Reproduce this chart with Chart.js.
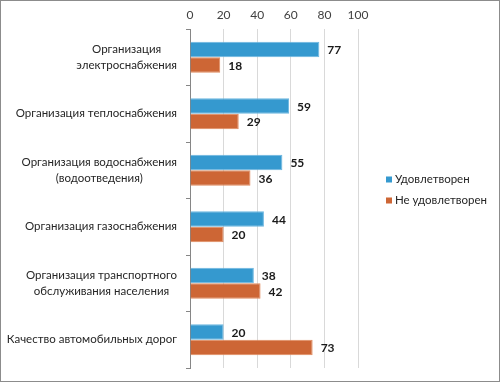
<!DOCTYPE html>
<html>
<head>
<meta charset="utf-8">
<script src="https://cdn.jsdelivr.net/npm/chart.js@4"></script>
<style>
  html, body { margin: 0; padding: 0; background: #fff; }
  #wrap { width: 500px; height: 382px; }
</style>
</head>
<body>
<div id="wrap"><canvas id="satisfactionChart" width="500" height="382"></canvas></div>
<script>
// категории (строки) и значения двух рядов, в процентах
const categories = [
  ["Организация", "электроснабжения"],
  ["Организация теплоснабжения"],
  ["Организация водоснабжения", "(водоотведения)"],
  ["Организация газоснабжения"],
  ["Организация транспортного", "обслуживания населения"],
  ["Качество автомобильных дорог"]
];
const seriesNames = ["Удовлетворен", "Не удовлетворен"];
const satisfied = [77, 59, 55, 44, 38, 20];
const notSatisfied = [18, 29, 36, 20, 42, 73];
const xTicks = [0, 20, 40, 60, 80, 100];

const FONT = "Lato, sans-serif";
const BLUE = "#3599cf";
const ORANGE = "#cd6635";

// подписи категорий: каждая строка по центру своего блока
const categoryLabels = {
  id: "categoryLabels",
  afterDraw(chart) {
    const ctx = chart.ctx;
    const yScale = chart.scales.y;
    const right = chart.chartArea.left - 13;
    ctx.save();
    ctx.font = "11.5px " + FONT;
    ctx.fillStyle = "#262626";
    ctx.textAlign = "center";
    ctx.textBaseline = "middle";
    categories.forEach(function (lines, i) {
      const maxW = Math.max.apply(null, lines.map(function (l) { return ctx.measureText(l).width; }));
      const cx = right - maxW / 2;
      const cy = yScale.getPixelForValue(i);
      const lh = 16.5;
      lines.forEach(function (l, k) {
        ctx.fillText(l, cx, cy + (k - (lines.length - 1) / 2) * lh);
      });
    });
    ctx.restore();
  }
};

// значения справа от столбцов
const valueLabels = {
  id: "valueLabels",
  afterDatasetsDraw(chart) {
    const ctx = chart.ctx;
    ctx.save();
    ctx.font = "bold 12px " + FONT;
    ctx.fillStyle = "#1a1a1a";
    ctx.textAlign = "left";
    ctx.textBaseline = "middle";
    chart.data.datasets.forEach(function (ds, di) {
      chart.getDatasetMeta(di).data.forEach(function (bar, i) {
        ctx.fillText(String(ds.data[i]), bar.x + 8, bar.y + 1);
      });
    });
    ctx.restore();
  }
};

// легенда справа и рамка
const sideLegend = {
  id: "sideLegend",
  afterDraw(chart) {
    const ctx = chart.ctx;
    const x = chart.chartArea.right + 28;
    const y0 = chart.height / 2 - 11.5;
    ctx.save();
    ctx.font = "11.5px " + FONT;
    ctx.textBaseline = "middle";
    ctx.textAlign = "left";
    chart.data.datasets.forEach(function (ds, i) {
      const y = y0 + i * 21;
      ctx.fillStyle = ds.backgroundColor;
      ctx.fillRect(x, y - 3, 6, 6);
      ctx.fillStyle = "#262626";
      ctx.fillText(ds.label, x + 9, y);
    });
    ctx.strokeStyle = "#8c8c8c";
    ctx.lineWidth = 1;
    ctx.strokeRect(0.5, 0.5, chart.width - 1, chart.height - 1);
    ctx.restore();
  }
};

const ctx = document.getElementById("satisfactionChart").getContext("2d");
new Chart(ctx, {
  type: "bar",
  data: {
    labels: categories,
    datasets: [
      {
        label: seriesNames[0],
        data: satisfied,
        backgroundColor: BLUE,
        borderColor: "#6bb6e0",
        borderWidth: 1,
        categoryPercentage: 0.55,
        barPercentage: 1
      },
      {
        label: seriesNames[1],
        data: notSatisfied,
        backgroundColor: ORANGE,
        borderColor: "#e08a5e",
        borderWidth: 1,
        categoryPercentage: 0.55,
        barPercentage: 1
      }
    ]
  },
  options: {
    indexAxis: "y",
    responsive: false,
    animation: false,
    layout: { padding: { left: 186, right: 142, top: 0.6, bottom: 14 } },
    plugins: {
      legend: { display: false },
      tooltip: { enabled: false }
    },
    scales: {
      x: {
        position: "top",
        min: 0,
        max: 100,
        afterBuildTicks: function (axis) {
          axis.ticks = xTicks.map(function (v) { return { value: v }; });
        },
        grid: { color: "#d9d9d9", drawTicks: false },
        border: { display: false },
        ticks: { color: "#404040", padding: 7, font: { family: FONT, size: 12 } }
      },
      y: {
        offset: true,
        grid: { offset: true, drawOnChartArea: false, drawTicks: true, tickLength: 4, color: "#868686" },
        border: { display: true, color: "#868686" },
        ticks: { display: false }
      }
    }
  },
  plugins: [categoryLabels, valueLabels, sideLegend]
});
</script>
</body>
</html>
